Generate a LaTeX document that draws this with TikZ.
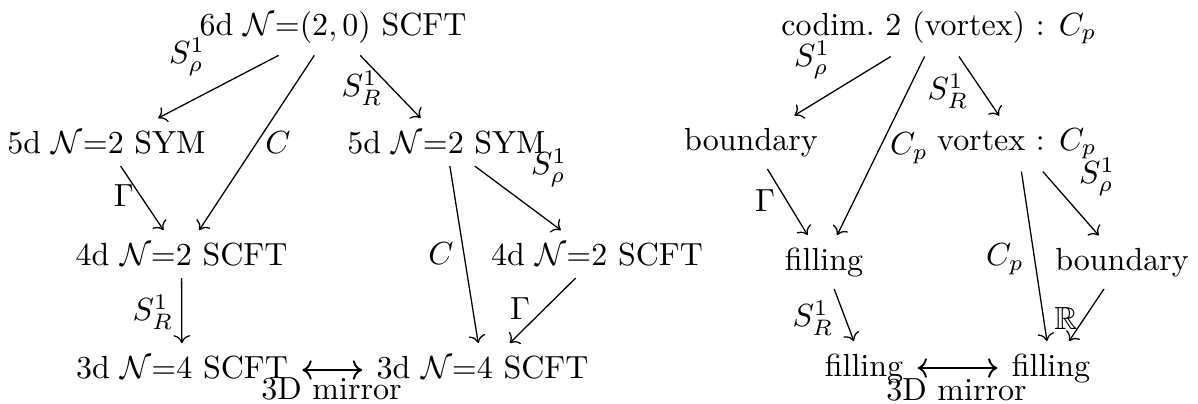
\documentclass[tikz,border=0pt]{standalone}
\usepackage{amssymb}
\usetikzlibrary{cd,arrows.meta}
\begin{document}
\begin{tikzpicture}[x=0.3125pt,y=-0.3125pt,
  cell/.style={shape=asymmetrical rectangle, inner xsep=1ex, inner ysep=0.85ex, anchor=base},
  lab/.style={inner sep=0pt},
  arr/.style={-{Computer Modern Rightarrow}},
  dbl/.style={{Computer Modern Rightarrow}-{Computer Modern Rightarrow}, line width=0.6pt}]
\useasboundingbox (0,0) rectangle (1198,403);
% left diagram
\node[cell] (A) at (333,35) {6d $\mathcal{N}$=$(2,0)$ SCFT};
\node[cell] (B) at (106.5,153) {5d $\mathcal{N}$=2 SYM};
\node[cell] (C) at (446.5,153) {5d $\mathcal{N}$=2 SYM};
\node[cell] (D) at (181.5,265) {4d $\mathcal{N}$=2 SCFT};
\node[cell] (E) at (597,265) {4d $\mathcal{N}$=2 SCFT};
\node[cell] (F) at (182,378) {3d $\mathcal{N}$=4 SCFT};
\node[cell] (G) at (482.5,378) {3d $\mathcal{N}$=4 SCFT};
\draw[arr] (A) -- (B);
\draw[arr] (A) -- (D);
\draw[arr] (A) -- (C);
\draw[arr] (B) -- (D);
\draw[arr] (D) -- (F);
\draw[arr] (C) -- (G);
\draw[arr] (C) -- (E);
\draw[arr] (E) -- (G);
\draw[dbl] (F) -- (G);
\node[lab] (la1) at (187,57) {$S^1_\rho$};
\node[lab] (la2) at (278,143) {$C$};
\node[lab] (la3) at (362,88) {$S^1_R$};
\node[lab] (la4) at (124,196) {$\Gamma$};
\node[lab] (la5) at (153,312) {$S^1_R$};
\node[lab] (la6) at (549,168) {$S^1_\rho$};
\node[lab] (la7) at (441,254) {$C$};
\node[lab] (la8) at (520,309) {$\Gamma$};
\node[lab, anchor=base] (la9) at (331.5,399) {3D mirror};
% right diagram
\node[cell] (H) at (939,35) {codim.\ 2 (vortex) : $C_p$};
\node[cell] (I) at (751,150) {boundary};
\node[cell] (J) at (1017,150) {vortex : $C_p$};
\node[cell] (K) at (824,270) {filling};
\node[cell] (L) at (1122,270) {boundary};
\node[cell] (M) at (864,376) {filling};
\node[cell] (N) at (1051,376) {filling};
\draw[arr] (H) -- (I);
\draw[arr] (H) -- (K);
\draw[arr] (H) -- (J);
\draw[arr] (I) -- (K);
\draw[arr] (J) -- (N);
\draw[arr] (J) -- (L);
\draw[arr] (K) -- (M);
\draw[arr] (L) -- (N);
\draw[dbl] (M) -- (N);
\node[lab] (lb1) at (812,60) {$S^1_\rho$};
\node[lab] (lb2) at (948,91) {$S^1_R$};
\node[lab] (lb3) at (909,148) {$C_p$};
\node[lab] (lb4) at (1097,177) {$S^1_\rho$};
\node[lab] (lb5) at (765,201) {$\Gamma$};
\node[lab] (lb6) at (813,318) {$S^1_R$};
\node[lab] (lb7) at (1005,259) {$C_p$};
\node[lab] (lb8) at (1066,318) {$\mathbb{R}$};
\node[lab, anchor=base] (lb9) at (956.5,400) {3D mirror};
\end{tikzpicture}
\end{document}
